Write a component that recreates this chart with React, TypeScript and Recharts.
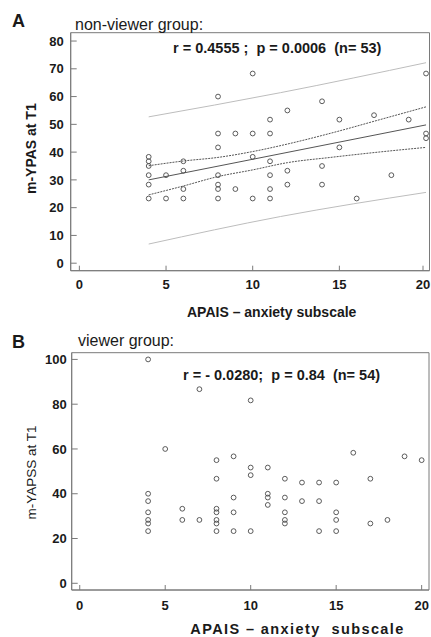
import React from "react";
import {
  ComposedChart,
  Scatter,
  Line,
  XAxis,
  YAxis,
  ReferenceArea,
} from "recharts";

// ---------------------------------------------------------------------------
// Data: [APAIS anxiety score, m-YPAS score]
// ---------------------------------------------------------------------------

const nonViewerPoints: [number, number][] = [
  [4, 38.3], [4, 36.7], [4, 35], [4, 31.7], [4, 28.3], [4, 23.3],
  [5, 31.7], [5, 23.3],
  [6, 36.7], [6, 33.3], [6, 26.7], [6, 23.3],
  [8, 60], [8, 46.7], [8, 41.7], [8, 31.7], [8, 28.3], [8, 26.7], [8, 23.3],
  [9, 46.7], [9, 26.7],
  [10, 68.3], [10, 46.7], [10, 38.3], [10, 23.3],
  [11, 51.7], [11, 46.7], [11, 36.7], [11, 31.7], [11, 26.7], [11, 23.3],
  [12, 55], [12, 33.3], [12, 28.3],
  [14, 58.3], [14, 35], [14, 28.3],
  [15, 51.7], [15, 41.7],
  [16, 23.3],
  [17, 53.3],
  [18, 31.7],
  [19, 51.7],
  [20, 68.3], [20, 46.7], [20, 45],
];

const viewerPoints: [number, number][] = [
  [4, 100], [4, 40], [4, 36.7], [4, 31.7], [4, 28.3], [4, 26.7], [4, 23.3],
  [5, 60],
  [6, 33.3], [6, 28.3],
  [7, 86.7], [7, 28.3],
  [8, 55], [8, 46.7], [8, 33.3], [8, 31.7], [8, 28.3], [8, 26.7], [8, 23.3],
  [9, 56.7], [9, 38.3], [9, 31.7], [9, 23.3],
  [10, 81.7], [10, 51.7], [10, 48.3], [10, 23.3],
  [11, 51.7], [11, 40], [11, 38.3], [11, 35],
  [12, 46.7], [12, 38.3], [12, 31.7], [12, 28.3], [12, 26.7],
  [13, 45], [13, 36.7],
  [14, 45], [14, 36.7], [14, 23.3],
  [15, 45], [15, 31.7], [15, 28.3], [15, 23.3],
  [16, 58.3],
  [17, 46.7], [17, 26.7],
  [18, 28.3],
  [19, 56.7],
  [20, 55],
];

// regression line + 95% confidence band + prediction band (non-viewer group)
const fitX = [4, 20];
const fitY = [30.0, 49.8];

const bandX = [4, 6, 8, 10, 12, 14.5, 17.4, 20];
const ciUpper = [35.1, 36.8, 38.1, 40.2, 42.9, 46.8, 51.8, 56.3];
const ciLower = [24.6, 27.8, 31.2, 33.6, 36.2, 38.1, 40.1, 41.7];

const predX = [4, 11.6, 20];
const predUpper = [52.7, 61.4, 72.2];
const predLower = [6.9, 16.8, 25.5];

const xTicks = [0, 5, 10, 15, 20];
const yTicksA = [0, 5, 10, 15, 20, 25, 30, 35, 40, 45, 50, 55, 60, 65, 70, 75, 80];
const yTicksB = [0, 10, 20, 30, 40, 50, 60, 70, 80, 90, 100];

// ---------------------------------------------------------------------------

const FONT = "'Liberation Sans', Arial, sans-serif";
const FRAME = "#7a7a7a";
const INK = "#1a1a1a";

const toXY = (pts: [number, number][]) => pts.map(([x, y]) => ({ x, y }));
const zip = (xs: number[], ys: number[]) => xs.map((x, i) => ({ x, y: ys[i] }));

const OpenCircle = (props: any) => {
  const { cx, cy } = props;
  if (cx == null || cy == null) return null;
  return <circle cx={cx} cy={cy} r={2.4} fill="none" stroke="#4a4a4a" strokeWidth={0.9} />;
};

// tick drawn inside the frame, label outside
const makeYTick = (margin: number, labelEvery: number) => (props: any) => {
  const { x, y, payload } = props;
  const axisX = x + margin;
  const major = payload.value % labelEvery === 0;
  return (
    <g>
      <line x1={axisX} x2={axisX + (major ? 6 : 3)} y1={y} y2={y} stroke={FRAME} strokeWidth={1} />
      {major && (
        <text x={x} y={y} dy="0.36em" textAnchor="end" fontFamily={FONT} fontSize={13} fontWeight="bold" fill={INK}>
          {payload.value}
        </text>
      )}
    </g>
  );
};

const makeXTick = (margin: number) => (props: any) => {
  const { x, y, payload } = props;
  const axisY = y - margin;
  return (
    <g>
      <line x1={x} x2={x} y1={axisY} y2={axisY - 5} stroke={FRAME} strokeWidth={1} />
      <text x={x} y={y} dy="0.71em" textAnchor="middle" fontFamily={FONT} fontSize={13} fontWeight="bold" fill={INK}>
        {payload.value}
      </text>
    </g>
  );
};

function PanelA() {
  const xDomain: [number, number] = [-0.5, 20.2];
  const yDomain: [number, number] = [-2.7, 83];
  return (
    <ComposedChart width={431} height={320} margin={{ top: 32.7, right: 1.5, bottom: 0, left: 0 }}>
      <XAxis
        dataKey="x"
        type="number"
        domain={xDomain}
        ticks={xTicks}
        allowDataOverflow
        height={49.3}
        axisLine={{ stroke: FRAME }}
        tickLine={false}
        tickSize={0}
        tickMargin={9}
        tick={makeXTick(9)}
      />
      <YAxis
        dataKey="y"
        type="number"
        domain={yDomain}
        ticks={yTicksA}
        allowDataOverflow
        width={70.7}
        axisLine={{ stroke: FRAME }}
        tickLine={false}
        tickSize={0}
        tickMargin={7}
        tick={makeYTick(7, 10)}
      />
      <ReferenceArea x1={xDomain[0]} x2={xDomain[1]} y1={yDomain[0]} y2={yDomain[1]} fill="none" stroke={FRAME} strokeWidth={1} />
      <Line data={zip(predX, predUpper)} dataKey="y" type="monotone" stroke="#bdbdbd" strokeWidth={1} dot={false} isAnimationActive={false} />
      <Line data={zip(predX, predLower)} dataKey="y" type="monotone" stroke="#bdbdbd" strokeWidth={1} dot={false} isAnimationActive={false} />
      <Line data={zip(bandX, ciUpper)} dataKey="y" type="monotone" stroke="#555" strokeWidth={1} strokeDasharray="2 1" dot={false} isAnimationActive={false} />
      <Line data={zip(bandX, ciLower)} dataKey="y" type="monotone" stroke="#555" strokeWidth={1} strokeDasharray="2 1" dot={false} isAnimationActive={false} />
      <Line data={zip(fitX, fitY)} dataKey="y" type="linear" stroke="#555" strokeWidth={1} dot={false} isAnimationActive={false} />
      <Scatter data={toXY(nonViewerPoints)} shape={OpenCircle} isAnimationActive={false} />
    </ComposedChart>
  );
}

function PanelB() {
  const xDomain: [number, number] = [-0.47, 20.43];
  const yDomain: [number, number] = [-3, 103];
  return (
    <ComposedChart width={431} height={317} margin={{ top: 32.7, right: 2, bottom: 0, left: 0 }}>
      <XAxis
        dataKey="x"
        type="number"
        domain={xDomain}
        ticks={xTicks}
        allowDataOverflow
        height={47}
        axisLine={{ stroke: FRAME }}
        tickLine={false}
        tickSize={0}
        tickMargin={11}
        tick={makeXTick(11)}
      />
      <YAxis
        dataKey="y"
        type="number"
        domain={yDomain}
        ticks={yTicksB}
        allowDataOverflow
        width={71.7}
        axisLine={{ stroke: FRAME }}
        tickLine={false}
        tickSize={0}
        tickMargin={5}
        tick={makeYTick(5, 20)}
      />
      <ReferenceArea x1={xDomain[0]} x2={xDomain[1]} y1={yDomain[0]} y2={yDomain[1]} fill="none" stroke={FRAME} strokeWidth={1} />
      <Scatter data={toXY(viewerPoints)} shape={OpenCircle} isAnimationActive={false} />
    </ComposedChart>
  );
}

export default function App() {
  return (
    <div style={{ position: "absolute", left: 0, top: 0, width: 431, height: 637, background: "#fff" }}>
      <div style={{ position: "absolute", left: 0, top: 0 }}>
        <PanelA />
      </div>
      <div style={{ position: "absolute", left: 0, top: 320 }}>
        <PanelB />
      </div>
      <svg width={431} height={637} style={{ position: "absolute", left: 0, top: 0, pointerEvents: "none" }} fontFamily={FONT} fill={INK}>
        <text x={12} y={26.7} fontSize={18} fontWeight="bold">A</text>
        <text x={75} y={29.5} fontSize={16}>non-viewer group:</text>
        <text x={173} y={53.3} fontSize={14.5} fontWeight="bold" style={{ whiteSpace: "pre" }}>
          {"r = 0.4555 ;  p = 0.0006  (n= 53)"}
        </text>
        <text x={35.7} y={148.7} fontSize={14} fontWeight="bold" textAnchor="middle" transform="rotate(-90 35.7 148.7)">
          m-YPAS at T1
        </text>
        <text x={271.7} y={316.5} fontSize={14} fontWeight="bold" textAnchor="middle">
          APAIS – anxiety subscale
        </text>

        <text x={12} y={348} fontSize={18} fontWeight="bold">B</text>
        <text x={78} y={346} fontSize={16}>viewer group:</text>
        <text x={183} y={380} fontSize={14.5} fontWeight="bold" style={{ whiteSpace: "pre" }}>
          {"r = - 0.0280;  p = 0.84  (n= 54)"}
        </text>
        <text x={35.5} y={472.5} fontSize={13.5} textAnchor="middle" transform="rotate(-90 35.5 472.5)">
          m-YAPSS at T1
        </text>
        <text x={297.5} y={633.5} fontSize={14.5} fontWeight="bold" textAnchor="middle" letterSpacing={1.4} style={{ whiteSpace: "pre" }}>
          {"APAIS – anxiety  subscale"}
        </text>
      </svg>
    </div>
  );
}
